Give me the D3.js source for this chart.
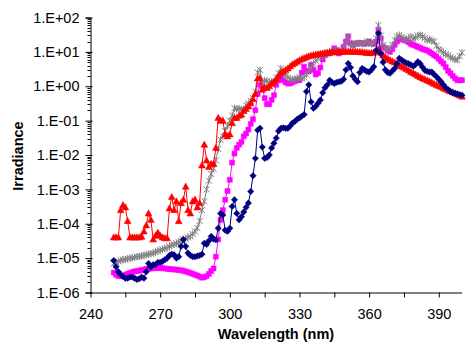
<!DOCTYPE html>
<html>
<head>
<meta charset="utf-8">
<script src="https://cdn.jsdelivr.net/npm/d3@7"></script>
<style>
  body { margin: 0; background: #fff; }
  svg { display: block; font-family: Arial, "Liberation Sans", sans-serif; }
  .tick text { font-size: 14.5px; fill: #000; }
  .axis-title { font-size: 14.5px; font-weight: bold; fill: #000; }
</style>
</head>
<body>
<svg width="474" height="345"></svg>
<script>
// wavelength grid (nm), one reading per nm
var wavelength = d3.range(250, 401, 1);

var xTicks = [240, 255, 270, 285, 300, 315, 330, 345, 360, 375, 390];
var xLabels = [240, 270, 300, 330, 360, 390];
var yDecades = [1e-6, 1e-5, 1e-4, 1e-3, 1e-2, 1e-1, 1e0, 1e1, 1e2];

var red = [
  4e-5, 4e-5, 4e-5, 2.5e-4, 3.5e-4, 3e-4, 1.2e-4, 4e-5, 4e-5, 4e-5,
  4e-5, 4e-5, 4.2e-5, 6e-5, 9e-5, 2e-4, 1.3e-4, 3.5e-5, 4.5e-5, 5.5e-5,
  4.5e-5, 4e-5, 3.8e-5, 3.8e-5, 2.8e-4, 6e-4, 2.5e-4, 4.5e-4, 1.2e-4, 4e-4,
  5e-4, 1.2e-3, 2.5e-4, 2e-4, 4.5e-4, 5e-4, 3e-4, 4e-4, 5e-3, 2e-2,
  7e-3, 4.5e-3, 5.5e-3, 5.5e-3, 1.6e-2, 1.2e-1, 1e-1, 1e-1, 4e-2, 3.5e-2,
  4e-2, 8.5e-2, 1.2e-1, 1.2e-1, 1.4e-1, 1.5e-1, 1.9e-1, 2.2e-1, 2.6e-1, 3.2e-1,
  0.42, 0.6, 1.7, 1.7, 0.8, 0.9, 0.9, 1.0, 1.2, 1.35,
  1.6, 2.0, 2.4, 2.7, 3.0, 3.3, 3.8, 4.3, 4.7, 5.2,
  5.7, 6.2, 6.6, 7.0, 7.5, 7.8, 8.0, 8.3, 8.6, 8.8,
  9.0, 9.2, 9.4, 9.6, 9.7, 9.8, 9.9, 10, 10, 10.1,
  10.1, 10.2, 10.2, 10.1, 10.1, 10, 9.9, 9.8, 9.6, 9.4,
  9.2, 9.3, 9.6, 10.5, 12, 9.5, 8, 7, 6.3, 5.8,
  5.3, 4.9, 4.5, 4.1, 3.8, 3.5, 3.2, 2.9, 2.6, 2.4,
  2.2, 2.0, 1.85, 1.7, 1.6, 1.48, 1.38, 1.28, 1.18, 1.1,
  1.02, 0.95, 0.88, 0.82, 0.76, 0.71, 0.67, 0.62, 0.58, 0.54,
  0.5
];

var gray = [
  7e-6, 7.5e-6, 8e-6, 8.5e-6, 9e-6, 9.2e-6, 9.5e-6, 1e-5, 1.02e-5, 1.05e-5,
  1.1e-5, 1.12e-5, 1.15e-5, 1.2e-5, 1.25e-5, 1.3e-5, 1.35e-5, 1.4e-5, 1.5e-5, 1.6e-5,
  1.7e-5, 1.8e-5, 1.9e-5, 2e-5, 2.2e-5, 2.4e-5, 2.5e-5, 2.7e-5, 2.9e-5, 3.2e-5,
  3.5e-5, 3.7e-5, 4e-5, 4.3e-5, 5e-5, 6e-5, 7.5e-5, 1.2e-4, 2.5e-4, 4.5e-4,
  1e-3, 1.8e-3, 2.8e-3, 4e-3, 7e-3, 1.5e-2, 2.8e-2, 3.5e-2, 5e-2, 7e-2,
  0.1, 0.14, 0.23, 0.22, 0.22, 0.21, 0.22, 0.28, 0.32, 0.38,
  0.45, 0.7, 2.5, 3, 1.2, 1.5, 1.4, 1.3, 1.35, 1.4,
  1.8, 2.4, 3.3, 2.6, 2.0, 1.8, 1.6, 1.5, 1.6, 1.7,
  1.8, 1.7, 1.8, 2.2, 3, 3.5, 4.5, 5.5, 6.5, 7.3,
  8, 8.5, 9.5, 10, 10.5, 11, 11, 10.5, 11, 12,
  18, 28, 16, 15, 17, 18, 18, 17, 18, 20,
  18, 17, 18, 25, 60, 30, 16, 13, 12, 13,
  16, 22, 28, 31, 27, 24, 22, 25, 28, 24,
  26, 30, 31, 28, 25, 22, 23, 21, 20, 15,
  12, 11, 9.5, 8.5, 8, 7, 6.5, 6, 5.8, 7.5,
  9.5
];

var magenta = [
  3.8e-6, 3.3e-6, 3e-6, 3e-6, 3.1e-6, 3.3e-6, 3.5e-6, 3.7e-6, 3.9e-6, 4.1e-6,
  4.2e-6, 4.3e-6, 4.5e-6, 4.6e-6, 4.8e-6, 4.9e-6, 5e-6, 5.1e-6, 5.1e-6, 5.2e-6,
  5.1e-6, 5.1e-6, 5e-6, 4.9e-6, 4.8e-6, 4.7e-6, 4.7e-6, 4.6e-6, 4.5e-6, 4.4e-6,
  4.3e-6, 4.1e-6, 3.9e-6, 3.7e-6, 3.5e-6, 3.3e-6, 3.1e-6, 2.9e-6, 2.7e-6, 2.8e-6,
  3e-6, 3.5e-6, 4.2e-6, 5e-6, 1.1e-5, 3.5e-5, 1.3e-4, 2.5e-4, 5e-4, 9e-4,
  1.9e-3, 6e-3, 1.1e-2, 1.6e-2, 2e-2, 2.4e-2, 3.5e-2, 4.2e-2, 5.5e-2, 8e-2,
  0.11, 0.2, 0.6, 1.1, 1, 0.45, 0.3, 0.3, 0.4, 0.55,
  1.1, 1.5, 2, 1.5, 1.3, 1.2, 1.2, 1.3, 1.4, 1.5,
  1.5, 2.5, 3.7, 2.7, 2.7, 4.2, 3, 2.2, 2.4, 3.5,
  6, 8, 9, 9, 10, 12.7, 11, 9, 10, 14,
  20, 28, 18, 16, 17, 18, 18, 18, 17, 18,
  20, 18, 17, 20, 43, 25, 14, 12.7, 11, 10,
  12, 16, 20, 25, 23, 22, 21, 19, 17, 16,
  15, 14, 13, 12, 11.5, 11, 10, 9, 8, 7.3,
  6.2, 5.3, 4.6, 3.6, 2.8, 2.4, 2, 1.7, 1.5, 1.5,
  1.5
];

var navy = [
  8.5e-6, 5.6e-6, 4e-6, 3.3e-6, 2.9e-6, 2.6e-6, 2.6e-6, 2.8e-6, 2.8e-6, 2.6e-6,
  2.4e-6, 2.5e-6, 2.8e-6, 2.6e-6, 4e-6, 7e-6, 5.5e-6, 6.4e-6, 6.5e-6, 7.5e-6,
  7.5e-6, 8e-6, 9e-6, 1e-5, 1.2e-5, 1.3e-5, 1.25e-5, 1e-5, 1.1e-5, 2.2e-5,
  3.5e-5, 2.2e-5, 1.4e-5, 1.2e-5, 1.1e-5, 1.1e-5, 1.15e-5, 1.2e-5, 1.3e-5, 2.7e-5,
  2.5e-5, 3.2e-5, 4.3e-5, 3.6e-5, 3.4e-5, 7.4e-5, 2e-4, 1.8e-4, 6.5e-5, 6e-5,
  7.4e-5, 3.2e-4, 5e-4, 2e-4, 1.3e-4, 1.6e-4, 2.2e-4, 3e-4, 4e-4, 8.7e-4,
  2.5e-3, 8e-3, 5.3e-2, 6e-2, 1.7e-2, 8e-3, 8.5e-3, 1e-2, 1.6e-2, 2.2e-2,
  3.1e-2, 5e-2, 6e-2, 6.2e-2, 6e-2, 6e-2, 7e-2, 8.5e-2, 9.5e-2, 0.11,
  0.12, 0.135, 0.15, 0.7, 1.1, 0.35, 0.23, 0.26, 0.32, 0.4,
  0.65, 0.9, 1.1, 1.5, 1.3, 1.2, 1.3, 1.35, 1.4, 1.6,
  3, 4.6, 3.5, 2, 1.6, 1.35, 2.5, 3.3, 3, 2.7,
  2.6, 3, 3.7, 11, 35, 9, 5, 3, 2.5, 2.4,
  2.8, 3.3, 4.5, 6.5, 5.8, 5.2, 4.8, 4.5, 4.2, 3.8,
  4.3, 5.2, 4.5, 3.6, 2.9, 2.7, 2.6, 2.6, 2.2, 1.9,
  1.6, 1.35, 1.1, 0.9, 0.8, 0.7, 0.65, 0.62, 0.6, 0.57,
  0.55
];

var svg = d3.select('svg');

var x = d3.scaleLinear().domain([240, 400]).range([90.5, 462]);
var y = d3.scaleLog().domain([1e-6, 1e2]).range([292.5, 17.5]);

function sciLabel(v) {
  var e = Math.round(Math.log10(v));
  var s = Math.abs(e) < 10 ? '0' + Math.abs(e) : '' + Math.abs(e);
  return '1.E' + (e < 0 ? '-' : '+') + s;
}

// y axis: decade ticks with labels, minor 2..9 ticks
var yMinor = [];
yDecades.slice(0, -1).forEach(function(d) {
  for (var k = 2; k <= 9; k++) yMinor.push(d * k);
});

var gy = svg.append('g').attr('class', 'y axis');
gy.selectAll('.minor')
  .data(yMinor)
  .enter().append('line')
  .attr('x1', x(240) - 3).attr('x2', x(240))
  .attr('y1', function(d) { return Math.round(y(d)) + 0.5; })
  .attr('y2', function(d) { return Math.round(y(d)) + 0.5; })
  .attr('stroke', '#000');
gy.append('g')
  .attr('transform', 'translate(' + x(240) + ',0)')
  .call(d3.axisLeft(y).tickValues(yDecades).tickFormat(sciLabel).tickSize(5).tickPadding(6))
  .call(function(g) {
    g.select('.domain').attr('stroke', '#000');
    g.selectAll('.tick line').attr('x2', -5).attr('x1', 2).attr('stroke', '#000');
  });

// x axis
svg.append('g')
  .attr('class', 'x axis')
  .attr('transform', 'translate(0,' + y(1e-6) + ')')
  .call(d3.axisBottom(x).tickValues(xTicks).tickSize(5).tickPadding(11)
    .tickFormat(function(d) { return xLabels.indexOf(d) >= 0 ? d : ''; }))
  .call(function(g) {
    g.select('.domain').attr('d', 'M' + x(240) + ',0.5H' + x(400)).attr('stroke', '#000');
    g.selectAll('.tick line').attr('stroke', '#000');
  });

svg.append('text')
  .attr('class', 'axis-title')
  .attr('x', 276).attr('y', 339)
  .attr('text-anchor', 'middle')
  .text('Wavelength (nm)');

svg.append('text')
  .attr('class', 'axis-title')
  .attr('transform', 'translate(23,156) rotate(-90)')
  .attr('text-anchor', 'middle')
  .text('Irradiance');

// markers
var marks = {
  square: 'M-2.5,-2.5h5v5h-5z',
  diamond: 'M0,-3.2L3.2,0L0,3.2L-3.2,0z',
  triangle: 'M0,-3.6L3.4,2.6L-3.4,2.6z',
  star: 'M-3,-3L3,3M-3,3L3,-3M0,-3.5V3.5'
};

var series = [
  { name: 'magenta', values: magenta, color: '#FF00FF', mark: 'square' },
  { name: 'gray', values: gray, color: '#808080', mark: 'star' },
  { name: 'red', values: red, color: '#FF0000', mark: 'triangle' },
  { name: 'navy', values: navy, color: '#000080', mark: 'diamond' }
];

var line = d3.line()
  .x(function(d) { return x(d[0]); })
  .y(function(d) { return y(d[1]); });

series.forEach(function(s) {
  var pts = wavelength.map(function(w, i) { return [w, s.values[i]]; });
  var g = svg.append('g').attr('class', 'series ' + s.name);
  g.append('path')
    .attr('d', line(pts))
    .attr('fill', 'none')
    .attr('stroke', s.color)
    .attr('stroke-width', 1);
  g.selectAll('path.mark')
    .data(pts)
    .enter().append('path')
    .attr('class', 'mark')
    .attr('transform', function(d) { return 'translate(' + x(d[0]) + ',' + y(d[1]) + ')'; })
    .attr('d', marks[s.mark])
    .attr('fill', s.mark === 'star' ? 'none' : s.color)
    .attr('stroke', s.color)
    .attr('stroke-width', s.mark === 'star' ? 1 : 0.5);
});
</script>
</body>
</html>
